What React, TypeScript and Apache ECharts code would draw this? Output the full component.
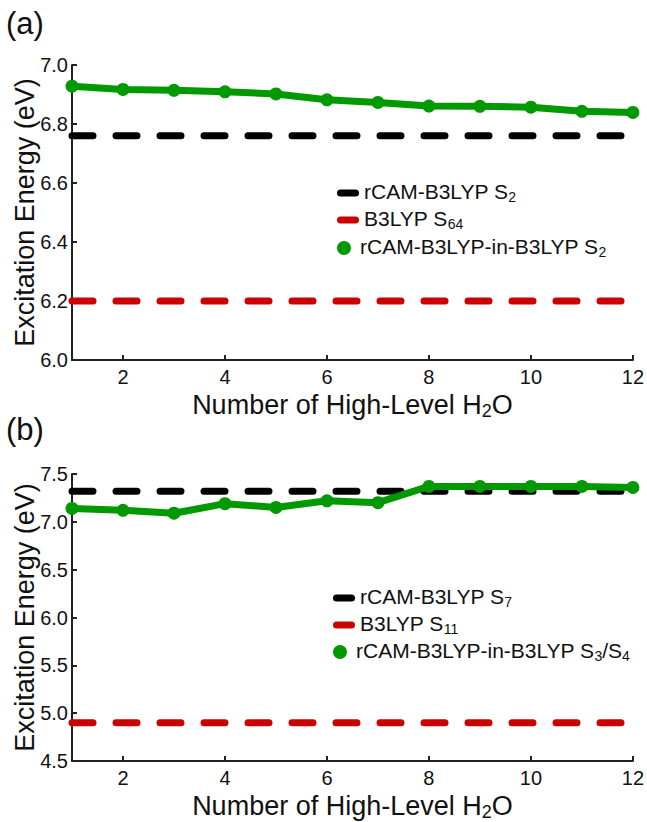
import React, { useEffect, useRef } from "react";
import * as echarts from "echarts";

// ---- data ----
const waters = [1, 2, 3, 4, 5, 6, 7, 8, 9, 10, 11, 12];
const xTickValues = [2, 4, 6, 8, 10, 12];

const topYTicks = [6.0, 6.2, 6.4, 6.6, 6.8, 7.0];
const topEmbedded = [6.928, 6.917, 6.914, 6.909, 6.902, 6.882, 6.873, 6.861, 6.860, 6.857, 6.843, 6.839];
const topRcam = 6.76;
const topB3lyp = 6.2;
const topNames = ["rCAM-B3LYP S_2", "B3LYP S_64", "rCAM-B3LYP-in-B3LYP S_2"];

const bottomYTicks = [4.5, 5.0, 5.5, 6.0, 6.5, 7.0, 7.5];
const bottomEmbedded = [7.14, 7.12, 7.09, 7.19, 7.15, 7.22, 7.2, 7.37, 7.37, 7.37, 7.37, 7.36];
const bottomRcam = 7.32;
const bottomB3lyp = 4.9;
const bottomNames = ["rCAM-B3LYP S_7", "B3LYP S_11", "rCAM-B3LYP-in-B3LYP S_3/S_4"];

const panelLabels = ["(a)", "(b)"];
const xTitle = "Number of High-Level H_2O";
const yTitle = "Excitation Energy (eV)";

// ---- styling ----
const FONT = "'Liberation Sans', Arial, Helvetica, sans-serif";
const TEXT = "#111";
const AXIS = "#222";
const BLACK = "#000000";
const RED = "#cc0000";
const GREEN = "#009900";
const PILL = "path://M3.5,0 L18.5,0 A3.5,3.5 0 0 1 18.5,7 L3.5,7 A3.5,3.5 0 0 1 3.5,0 Z";

const toRich = (s: string) =>
  s
    .split(/(_\d+)/)
    .filter(Boolean)
    .map((p) => (p.startsWith("_") ? `{sub|${p.slice(1)}}` : `{n|${p}}`))
    .join("");

const legendRich = {
  n: { fontSize: 21, lineHeight: 24, verticalAlign: "top", color: TEXT, fontFamily: FONT },
  sub: { fontSize: 14, lineHeight: 24, padding: [9, 0, 0, 0], verticalAlign: "top", color: TEXT, fontFamily: FONT },
};
const titleRich = {
  n: { fontSize: 27, lineHeight: 26, verticalAlign: "top", color: TEXT, fontFamily: FONT },
  sub: { fontSize: 18, lineHeight: 26, padding: [11, 0, 0, 0], verticalAlign: "top", color: TEXT, fontFamily: FONT },
};

function legendItem(name: string, icon: string, left: number, top: number, h: number) {
  return {
    show: true,
    left,
    top,
    padding: 0,
    selectedMode: false,
    itemWidth: 22,
    itemHeight: h,
    itemStyle: { borderWidth: 0 },
    data: [{ name, icon }],
    formatter: (nm: string) => toRich(nm),
    textStyle: { fontFamily: FONT, fontSize: 21, color: TEXT, rich: legendRich },
  };
}

function xAxisFor(gridIndex: number) {
  return {
    type: "value",
    gridIndex,
    min: waters[0],
    max: waters[waters.length - 1],
    name: toRich(xTitle),
    nameLocation: "middle",
    nameGap: 31,
    nameMoveOverlap: false,
    nameTextStyle: { fontFamily: FONT, fontSize: 27, color: TEXT, rich: titleRich },
    axisLine: { show: true, onZero: false, lineStyle: { color: AXIS, width: 2 } },
    axisTick: { show: true, inside: true, length: 5, lineStyle: { color: AXIS, width: 2 }, customValues: xTickValues },
    axisLabel: { show: true, margin: 7, fontFamily: FONT, fontSize: 20, color: TEXT, customValues: xTickValues },
    splitLine: { show: false },
  };
}

function yAxisFor(gridIndex: number, ticks: number[]) {
  return {
    type: "value",
    gridIndex,
    min: ticks[0],
    max: ticks[ticks.length - 1],
    interval: ticks[1] - ticks[0],
    name: yTitle,
    nameLocation: "middle",
    nameGap: 34,
    nameMoveOverlap: false,
    nameTextStyle: { fontFamily: FONT, fontSize: 27, color: TEXT },
    axisLine: { show: true, onZero: false, lineStyle: { color: AXIS, width: 2 } },
    axisTick: { show: true, inside: true, length: 5, lineStyle: { color: AXIS, width: 2 } },
    axisLabel: {
      show: true,
      margin: 4,
      fontFamily: FONT,
      fontSize: 20,
      color: TEXT,
      formatter: (v: number) => v.toFixed(1),
    },
    splitLine: { show: false },
  };
}

function dashed(name: string, value: number, color: string, idx: number) {
  return {
    type: "line",
    name,
    xAxisIndex: idx,
    yAxisIndex: idx,
    data: [
      [waters[0], value],
      [waters[waters.length - 1], value],
    ],
    symbol: "none",
    clip: false,
    color,
    itemStyle: { color },
    lineStyle: { color, width: 7, type: [21, 23], cap: "round" },
    silent: true,
  };
}

function solid(name: string, values: number[], idx: number) {
  return {
    type: "line",
    name,
    xAxisIndex: idx,
    yAxisIndex: idx,
    data: waters.map((w, i) => [w, values[i]]),
    symbol: "circle",
    symbolSize: 13,
    showSymbol: true,
    clip: false,
    color: GREEN,
    itemStyle: { color: GREEN },
    lineStyle: { color: GREEN, width: 7, cap: "round", join: "round" },
    silent: true,
  };
}

export default function App() {
  const ref = useRef<HTMLDivElement>(null);
  useEffect(() => {
    if (!ref.current) return;
    const chart = echarts.init(ref.current, null, { renderer: "svg" });
    chart.setOption({
      animation: false,
      backgroundColor: "#ffffff",
      grid: [
        { left: 72, right: 12, top: 65, height: 295 },
        { left: 72, right: 12, top: 474, height: 295 },
      ],
      xAxis: [xAxisFor(0), xAxisFor(1)],
      yAxis: [yAxisFor(0, topYTicks), yAxisFor(1, bottomYTicks)],
      legend: [
        legendItem(topNames[0], PILL, 337, 181, 7),
        legendItem(topNames[1], PILL, 337, 208, 7),
        legendItem(topNames[2], "circle", 337, 236, 14),
        legendItem(bottomNames[0], PILL, 333, 586, 7),
        legendItem(bottomNames[1], PILL, 333, 613, 7),
        legendItem(bottomNames[2], "circle", 333, 640, 14),
      ],
      graphic: [
        { type: "text", left: 6, top: 8, style: { text: panelLabels[0], fontSize: 31, fontFamily: FONT, fill: TEXT } },
        { type: "text", left: 6, top: 414, style: { text: panelLabels[1], fontSize: 31, fontFamily: FONT, fill: TEXT } },
      ],
      series: [
        dashed(topNames[0], topRcam, BLACK, 0),
        dashed(topNames[1], topB3lyp, RED, 0),
        solid(topNames[2], topEmbedded, 0),
        dashed(bottomNames[0], bottomRcam, BLACK, 1),
        dashed(bottomNames[1], bottomB3lyp, RED, 1),
        solid(bottomNames[2], bottomEmbedded, 1),
      ],
    });
    return () => chart.dispose();
  }, []);
  return (
    <div
      ref={ref}
      style={{ position: "absolute", left: 0, top: 0, width: 647, height: 822, background: "#fff" }}
    />
  );
}
